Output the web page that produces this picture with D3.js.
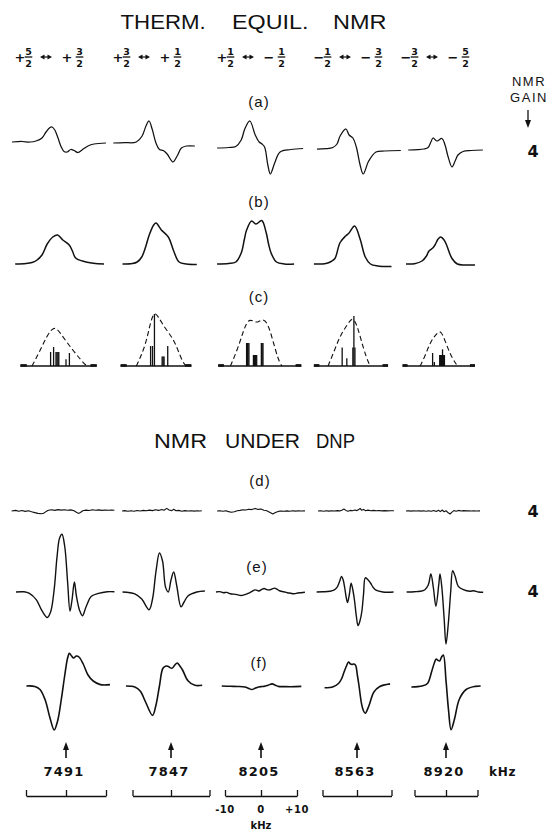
<!DOCTYPE html>
<html><head><meta charset="utf-8">
<script src="https://cdn.jsdelivr.net/npm/d3@7"></script>
<style>
body{margin:0;background:#fff}
svg{display:block}
text{font-family:"Liberation Sans","DejaVu Sans",sans-serif;fill:#111}
.b{font-family:"DejaVu Sans","Liberation Sans",sans-serif;font-weight:bold}
</style></head><body>
<svg id="chart" width="556" height="831"></svg>
<script>
// ================= DATA =================
const titleTop = ["THERM.", "EQUIL.", "NMR"];
const titleBottom = ["NMR", "UNDER", "DNP"];
const transFrom = ["+5/2", "+3/2", "+1/2", "−1/2", "−3/2"];
const transTo   = ["+3/2", "+1/2", "−1/2", "−3/2", "−5/2"];
const rowLabels = ["(a)", "(b)", "(c)", "(d)", "(e)", "(f)"];
const gainValues = ["4", "4", "4"];            // rows a, d, e
const centerFreqs = [7491, 7847, 8205, 8563, 8920]; // kHz
const offsetTicks = [-10, 0, 10];              // kHz

// traces: [offset kHz, signal (arb. units)]
const rowA = [
 [[-13.5,0],[-11,0.5],[-9,0],[-7.5,1],[-6,4],[-5,10],[-4,14.5],[-3.5,15],[-2.8,12],[-2,4],[-1.3,-4],[-0.5,-9.5],[0.3,-10],[1.2,-7.5],[2,-8.5],[3,-10.5],[4,-8],[5.5,-4],[7,-2],[10,-1]],
 [[-15,0],[-12,0.3],[-9,1],[-7.5,7],[-6.5,17],[-5.7,22],[-4.9,14],[-3.9,0],[-3,-6.5],[-2,-7.5],[-1,-11],[0.5,-19],[1.6,-13],[2.7,-5],[4,-3],[6.2,-3]],
 [[-12.2,0],[-9,0.5],[-7,1.5],[-5.5,8],[-4.5,19],[-3.1,27],[-1.6,13],[-0.5,6],[0.3,4],[1,1],[1.9,-17],[2.6,-26],[3.8,-15],[5.3,-4],[8.3,-1.5],[11.7,-0.5]],
 [[-11.6,0],[-9,0.3],[-7,1.5],[-5.8,5],[-4.9,13],[-3.2,20],[-2.3,14],[-1.2,11],[-0.2,2],[0.9,-16],[1.8,-25],[3.4,-12],[5.5,-3],[8,-2],[12.7,-1.5]],
 [[-12,0],[-9,0.3],[-7,1],[-5.7,2.5],[-4.8,8],[-4.1,12],[-2.9,9],[-1.3,11.5],[-0.3,5],[0.6,-6],[1.9,-17],[2.9,-11],[3.8,-5],[5.4,-1.5],[8,-0.5],[11.7,0]]
];
const rowB = [
 [[-12.7,0],[-10,0.5],[-8.5,1.5],[-7.4,3.5],[-6,9],[-4.7,20],[-3.3,27],[-2.1,29],[-0.8,24],[0.8,19],[1.6,13],[2.4,6],[4.1,3],[6.8,0.8],[9.5,0]],
 [[-12.6,0],[-10,0.5],[-8.8,2],[-7.6,7],[-6.6,17],[-5.7,28.5],[-4.5,39],[-3.9,41],[-2.5,34],[-0.7,27],[0.7,13],[2.1,2],[4,0],[6.7,-0.5]],
 [[-12.2,0],[-9,0.5],[-7,2],[-5.5,11],[-4.6,25],[-4,34],[-2.6,43],[-1.4,40],[0.2,43.5],[1.4,32],[2.1,20],[2.8,11],[4.3,2],[6.5,0],[9.2,0]],
 [[-12.5,0],[-9,0.5],[-7.5,2.5],[-6.4,5.5],[-4.9,21.5],[-3.3,28],[-2.3,31],[-0.7,38],[0.9,25],[2.4,7],[3.9,0],[6,-2],[10,-2.5]],
 [[-12.7,0],[-10,0.3],[-7.6,3],[-6.2,8],[-5.4,13],[-4.2,16],[-3.5,19],[-2.5,25],[-1.7,27],[-0.6,24],[0.3,18],[1.9,5.5],[3.6,0],[6,-1],[9.2,-1]]
];
// row c: computed envelope (dashed), stick spectrum, baseline extent
const envC = [
 [[-8.5,0],[-6.5,15],[-4.7,31],[-2.95,40],[-1.6,34],[0.15,24],[1.9,15],[3.7,6],[5.2,0]],
 [[-9,0],[-6.6,20],[-5.3,45],[-4.3,54],[-3.4,50],[-1.6,38],[0.25,29],[1.6,18.4],[3,4],[3.9,0]],
 [[-8.5,0],[-6.5,16.7],[-5,34],[-3.6,47],[-2.1,45],[-0.9,43],[0.4,47.5],[1.9,43],[3.3,25.5],[4.8,6],[5.8,0]],
 [[-8.4,0],[-6.4,16.7],[-4.8,31],[-2.75,41.5],[-1.2,50],[0.3,38],[1.9,16.7],[3.4,2.5],[3.9,0]],
 [[-8.2,0],[-6.5,11],[-4.8,25.5],[-2.5,34],[-1.6,35],[-0.3,25.5],[1.4,11],[3.1,2.5],[3.6,0]]
];
const sticksC = [
 [[-3.85,14],[-3.1,19],[-2.5,14],[-2.25,14],[-2,14],[-1.8,14],[0,6.7],[0.85,13]],
 [[-5.3,20],[-4.8,20],[-4.3,52],[-2.3,9.6],[-2.05,9.6],[-1.8,9.6],[-0.85,20]],
 [[-4,23],[-3.8,23],[-3.6,23],[-3.35,23],[-2.1,11],[-1.8,11],[-1.5,11],[-1.2,11],[0.1,23],[0.3,23],[0.55,23]],
 [[-4.3,18.4],[-2.95,7.8],[-1.2,18.4],[-0.9,50],[-0.6,18.4]],
 [[-4.25,13],[-3.7,4],[-2,11],[-1.7,11],[-1.4,11],[-1.1,16.7],[-0.8,11],[-0.5,11]]
];
const baseExtC = [[-11.4,7.7],[-13.1,5.3],[-11.9,11.2],[-12.5,9],[-13.8,9.2]];
const rowD = [
 [[-13.6,0],[-12.6,0.6],[-11.8,-0.2],[-11,0.5],[-10.2,-0.4],[-9.4,0.2],[-8.6,-0.8],[-7.8,-1.6],[-7,-2.4],[-6.2,-2.8],[-5.6,-2.2],[-5,-0.6],[-4.4,0.8],[-3.6,1.2],[-2.8,0.6],[-2,1.4],[-1.2,0.9],[-0.4,1.3],[0.4,0.7],[1.2,1.1],[2,0.2],[2.6,-1.2],[3.1,-2.4],[3.6,-1.5],[4.2,0.2],[5,0.9],[5.8,0.5],[6.6,1.2],[7.4,0.8],[8.2,1.1],[9,0.6],[9.8,1],[10.6,0.7],[11.4,1],[12.1,0.8]],
 [[-12.7,0],[-12,0.4],[-11.2,-0.3],[-10.4,0.3],[-9.6,-0.2],[-8.8,0.5],[-8,0],[-7.2,0.6],[-6.4,0.2],[-5.6,0.9],[-4.8,0.4],[-4,1.2],[-3.2,0.6],[-2.4,1.6],[-1.8,0.8],[-1.1,2.6],[-0.5,1],[0.2,0.4],[0.7,1.8],[1.3,0.2],[2,0.6],[2.8,-0.2],[3.6,0.4],[4.4,0],[5.2,0.3],[6,-0.1],[6.8,0.3],[7.5,0],[8,0.2]],
 [[-12.2,0],[-11.4,0.3],[-10.6,-0.2],[-9.8,0.2],[-9,-0.6],[-8.2,-1.2],[-7.4,-0.8],[-6.6,0.2],[-5.8,0.6],[-5,1.2],[-4.2,1],[-3.4,1.8],[-2.6,1.4],[-1.6,2.6],[-0.8,1.6],[0,2],[0.8,0.8],[1.6,0.2],[2.4,-1.2],[3.3,-3],[4,-1.6],[4.8,-0.4],[5.6,0],[6.4,-0.3],[7.2,0.1],[8,-0.2],[8.8,0.2],[9.6,-0.1],[10.4,0.2],[11.2,0],[12.2,0.1]],
 [[-11.3,0],[-10.5,0.3],[-9.7,-0.2],[-8.9,0.2],[-8.1,-0.1],[-7.3,0.3],[-6.5,0],[-5.7,0.4],[-5,0.1],[-4.4,0.8],[-3.8,2],[-3.2,0.6],[-2.6,-0.2],[-2,0.6],[-1.3,0.2],[-0.6,1],[0,0.4],[0.5,1.4],[0.9,2.6],[1.3,0.8],[1.9,1.6],[2.5,0.2],[3.2,0.9],[4,0.3],[4.8,0.6],[5.6,0.2],[6.4,0.5],[7.2,0.1],[8,0.4],[8.8,0.1],[9.6,0.3],[10.7,0.2]],
 [[-12.7,0],[-11.9,0.3],[-11.1,-0.1],[-10.3,0.2],[-9.5,0],[-8.7,0.3],[-7.9,-0.1],[-7.1,0.2],[-6.3,-0.2],[-5.5,0.3],[-4.7,-0.3],[-3.9,0.5],[-3.1,-0.4],[-2.4,0.8],[-1.8,-0.6],[-1.2,1],[-0.6,-0.8],[0,0.3],[0.6,-1.5],[1.3,-3],[1.9,-1.2],[2.5,0.4],[3.2,-0.3],[4,0.6],[4.8,0],[5.6,0.4],[6.4,0.1],[7.2,0.3],[8,0],[8.8,0.2],[9.6,0],[10.8,0.1]]
];
const rowE = [
 [[-12.5,0],[-10.5,0.2],[-9.15,-1.4],[-7.4,-7.8],[-6.05,-18.4],[-4.7,-25.5],[-3.85,-20],[-2.95,2.8],[-2.25,34.8],[-1.6,54],[-1,57.8],[-0.3,45],[0.4,10],[1,-19],[1.5,-8],[2.1,10],[2.6,-4],[3.4,-18.4],[4.1,-23.8],[5,-15],[6.35,-4.3],[8.1,-1.4],[10.3,0.3],[12.1,0.3]],
 [[-12.6,0],[-9.4,-1.8],[-7.6,-7],[-5.7,-17.7],[-4.8,-7],[-3.9,20.6],[-3,39],[-2.2,31],[-1.4,4.6],[-0.7,0],[0,12],[0.7,20],[1.5,6],[2.6,-14.9],[3.4,-10],[4.4,-4],[6.7,0],[8.8,1]],
 [[-12.5,0],[-11.5,0.4],[-10.4,-0.7],[-9.5,-0.4],[-8.5,-1.8],[-7,-2.4],[-5.5,-3.5],[-4.5,-2.6],[-3.6,-1.4],[-2.6,0.4],[-1.6,2.1],[-0.6,1],[0.2,2.6],[0.9,3.5],[1.6,2.4],[2.4,2.1],[3.1,3.2],[3.8,3.9],[4.5,2.6],[5.3,1],[6.3,0.2],[7.3,-0.7],[8.2,-1.2],[9.2,-1.8],[10.2,-1],[11.2,-0.7],[12.2,-0.3]],
 [[-11.7,0],[-9.8,0.2],[-7.9,0.7],[-6.7,1.8],[-5.8,4.6],[-5.1,10],[-4.5,15.6],[-4,12],[-3.6,5],[-3.15,-5],[-2.75,-10.6],[-2.2,-2],[-1.7,8.9],[-1.2,2],[-0.7,-9],[-0.2,-24],[0.3,-33.7],[0.85,-29],[1.4,-19.5],[1.9,-2],[2.4,14.2],[3.1,12.5],[3.9,9],[4.7,4.5],[5.5,1.8],[7.5,0],[10.6,0]],
 [[-12.5,0],[-10,0.3],[-8.25,0.7],[-6.7,2.3],[-5.6,7.3],[-4.8,18],[-4,4],[-3.2,-14.3],[-2.3,7.3],[-1.9,18],[-1.3,4],[-0.6,-26],[0,-52],[0.7,-32.7],[1.5,0.7],[2.1,21.3],[2.9,15.7],[3.9,5.7],[5.5,2.3],[7.6,0.7],[8.7,1.3],[10.3,0],[11.8,-0.3]]
];
const rowF = [
 [[-9.9,0],[-7.8,-0.4],[-6.5,-3.5],[-5.2,-14],[-4,-32],[-2.95,-44],[-2.1,-35],[-1.2,-14],[-0.3,11],[0.4,28],[0.85,32.6],[1.4,30],[1.9,28],[2.6,30],[3.25,29],[4.3,22],[5.5,11],[6.8,5],[8.6,1.4],[11,1.4]],
 [[-11.7,0],[-9.4,-1],[-8,-5],[-6.6,-16],[-4.8,-29.4],[-3.9,-19],[-3,0],[-2.1,17.7],[-1.3,20],[-0.7,19.5],[0.25,17.7],[1,21],[1.6,23],[2.3,20],[3,16],[4.4,5.3],[6.2,0.7],[8.1,0.7]],
 [[-10.9,0],[-8.5,-0.3],[-6.5,-0.5],[-4.5,-1],[-3.4,-2.4],[-2.6,-3.5],[-1.8,-2.6],[-1.1,-1.4],[0,-0.6],[0.85,-0.4],[2,0.8],[3.1,2.1],[4,0.8],[4.8,-0.4],[6.5,-0.6],[8.3,-0.7],[11.2,-0.4]],
 [[-9.4,-1.8],[-6.9,-0.7],[-5.3,2.8],[-4.5,7],[-3.8,13.5],[-3,20.5],[-2.45,24],[-1.9,22],[-1.45,21.6],[-0.9,22],[-0.4,20.6],[0.1,11],[0.55,1],[1.35,-18.4],[1.9,-25],[2.4,-27.3],[3.4,-20.2],[4.9,-6],[6.5,-0.7],[9.6,2.1]],
 [[-11,-1],[-7.6,0],[-5.9,2.5],[-4.5,15],[-3.6,24],[-3.1,27],[-2.5,25.5],[-2,25],[-1.4,29],[-0.85,31],[0.03,4.3],[0.8,-24],[1.6,-43.6],[2.7,-33],[4.2,-13.5],[6.4,-3.5],[9.3,-0.4],[11,0]]
];

// ================= LAYOUT =================
const svg = d3.select("#chart");
const ink = "#111";
const panelPx   = [66, 171, 261, 357, 446];
const panelHalf = [40, 38.5, 36, 34.5, 31.5];
const xs = panelPx.map((c, i) => d3.scaleLinear().domain([-10, 10]).range([c - panelHalf[i], c + panelHalf[i]]));
const yOf = base => d3.scaleLinear().domain([-1, 1]).range([base + 1, base - 1]);
const smooth = d3.curveCatmullRom.alpha(0.5);

const base = {a:[142,143,148,149,150], b:264, c:366, d:511, e:592, f:686};
const pick = (b, i) => Array.isArray(b) ? b[i] : b;

function drawRow(data, b, curve, sw) {
  data.forEach((tr, i) => {
    const x = xs[i], y = yOf(pick(b, i));
    svg.append("path").datum(tr)
      .attr("d", d3.line().x(d => x(d[0])).y(d => y(d[1])).curve(curve))
      .attr("fill", "none").attr("stroke", ink).attr("stroke-width", sw)
      .attr("stroke-linejoin", "round");
  });
}
drawRow(rowA, base.a, smooth, 1.25);
drawRow(rowB, base.b, smooth, 1.5);
drawRow(rowD, base.d, d3.curveLinear, 1.1);
drawRow(rowE, base.e, smooth, 1.4);
drawRow(rowF, base.f, smooth, 1.6);

// row c
envC.forEach((env, i) => {
  const x = xs[i], y = yOf(base.c);
  const [e0, e1] = baseExtC[i];
  svg.append("line").attr("x1", x(e0)).attr("x2", x(e1)).attr("y1", y(0)).attr("y2", y(0))
    .attr("stroke", ink).attr("stroke-width", 1.4);
  [[e0, e0 + 1.6], [e1 - 1.6, e1]].forEach(([p, q]) =>
    svg.append("line").attr("x1", x(p)).attr("x2", x(q)).attr("y1", y(0) - 0.6).attr("y2", y(0) - 0.6)
      .attr("stroke", ink).attr("stroke-width", 2.6));
  svg.append("path").datum(env)
    .attr("d", d3.line().x(d => x(d[0])).y(d => y(d[1])).curve(d3.curveBasis))
    .attr("fill", "none").attr("stroke", ink).attr("stroke-width", 1.1).attr("stroke-dasharray", "5,3");
  svg.selectAll(null).data(sticksC[i]).join("line")
    .attr("x1", d => x(d[0])).attr("x2", d => x(d[0]))
    .attr("y1", y(0)).attr("y2", d => y(d[1]))
    .attr("stroke", ink).attr("stroke-width", 1.3);
});

// titles
const tw = [[120.5,205.7],[232,308.5],[333,386.5]];
titleTop.forEach((t, i) => svg.append("text").attr("x", tw[i][0]).attr("y", 29)
  .attr("font-size", 21).attr("textLength", tw[i][1]-tw[i][0]).attr("lengthAdjust","spacingAndGlyphs").text(t));
const bw = [[154,207],[225,300],[316,355]];
titleBottom.forEach((t, i) => svg.append("text").attr("x", bw[i][0]).attr("y", 448)
  .attr("font-size", 20).attr("textLength", bw[i][1]-bw[i][0]).attr("lengthAdjust","spacingAndGlyphs").text(t));

// transition labels
const transCx = [52, 150, 254, 351, 438];
const barY = 57;
function frac(x, s) {
  const [n, d] = s.slice(1).split("/");
  svg.append("text").attr("class","b").attr("x", x).attr("y", barY - 1.8).attr("text-anchor","middle").attr("font-size", 9.5).text(n);
  svg.append("line").attr("x1", x - 3.8).attr("x2", x + 3.8).attr("y1", barY).attr("y2", barY).attr("stroke", ink).attr("stroke-width", 1.3);
  svg.append("text").attr("class","b").attr("x", x).attr("y", barY + 9.5).attr("text-anchor","middle").attr("font-size", 9.5).text(d);
}
function sign(x, s) {
  svg.append("text").attr("class","b").attr("x", x).attr("y", barY + 4.5).attr("text-anchor","middle").attr("font-size", 13).text(s[0] === "+" ? "+" : "−");
}
transFrom.forEach((f, i) => {
  const cx = transCx[i];
  sign(cx - 32, f); frac(cx - 23.5, f);
  const a0 = cx - 12, a1 = cx;
  svg.append("line").attr("x1", a0 + 3).attr("x2", a1 - 3).attr("y1", barY).attr("y2", barY).attr("stroke", ink).attr("stroke-width", 1.2);
  svg.append("path").attr("d", `M${a0},${barY} L${a0+4.5},${barY-2.6} L${a0+4.5},${barY+2.6} Z M${a1},${barY} L${a1-4.5},${barY-2.6} L${a1-4.5},${barY+2.6} Z`).attr("fill", ink);
  sign(cx + 15, transTo[i]); frac(cx + 27.5, transTo[i]);
});

// row labels
const rowLabPos = [[259,107],[259,207],[259,302],[260,486],[257,572],[259,668]];
rowLabels.forEach((t, i) => svg.append("text").attr("x", rowLabPos[i][0]).attr("y", rowLabPos[i][1])
  .attr("text-anchor","middle").attr("font-size", 15).attr("letter-spacing", 1).text(t));

// NMR GAIN
svg.append("text").attr("x", 529).attr("y", 86).attr("text-anchor","middle").attr("font-size", 13).attr("letter-spacing", 1.5).text("NMR");
svg.append("text").attr("x", 529).attr("y", 102).attr("text-anchor","middle").attr("font-size", 13).attr("letter-spacing", 1.5).text("GAIN");
svg.append("line").attr("x1", 528).attr("x2", 528).attr("y1", 110).attr("y2", 122).attr("stroke", ink).attr("stroke-width", 1.3);
svg.append("path").attr("d", "M528,128 L525,120 L531,120 Z").attr("fill", ink);
const gainY = [157, 517, 597];
gainValues.forEach((g, i) => svg.append("text").attr("class","b").attr("x", 533).attr("y", gainY[i])
  .attr("text-anchor","middle").attr("font-size", 16).text(g));

// frequency arrows + labels
centerFreqs.forEach((f, i) => {
  const x = xs[i](0);
  svg.append("line").attr("x1", x).attr("x2", x).attr("y1", 758).attr("y2", 748).attr("stroke", ink).attr("stroke-width", 1.6);
  svg.append("path").attr("d", `M${x},742 L${x-3},750 L${x+3},750 Z`).attr("fill", ink);
  svg.append("text").attr("class","b").attr("x", x - 2).attr("y", 776).attr("text-anchor","middle")
    .attr("font-size", 13).attr("letter-spacing", 1.2).text(f);
});
svg.append("text").attr("class","b").attr("x", 489).attr("y", 776).attr("font-size", 12).attr("letter-spacing", 0.8).text("kHz");

// kHz offset brackets
xs.forEach((x, i) => {
  const g = svg.append("g").attr("transform", "translate(0,796)")
    .call(d3.axisTop(x).tickValues(offsetTicks).tickSize(6).tickSizeOuter(0).tickFormat(""));
  g.select(".domain").attr("stroke", ink).attr("stroke-width", 1.3);
  g.selectAll(".tick line").attr("stroke", ink).attr("stroke-width", 1.3);
  if (i === 2) {
    offsetTicks.forEach(v => svg.append("text").attr("class","b").attr("x", x(v)).attr("y", 813)
      .attr("text-anchor","middle").attr("font-size", 10).attr("letter-spacing", 0.5)
      .text(v > 0 ? "+" + v : v < 0 ? "-" + Math.abs(v) : "0"));
    svg.append("text").attr("class","b").attr("x", x(0)).attr("y", 829).attr("text-anchor","middle")
      .attr("font-size", 10).text("kHz");
  }
});
</script></body></html>
